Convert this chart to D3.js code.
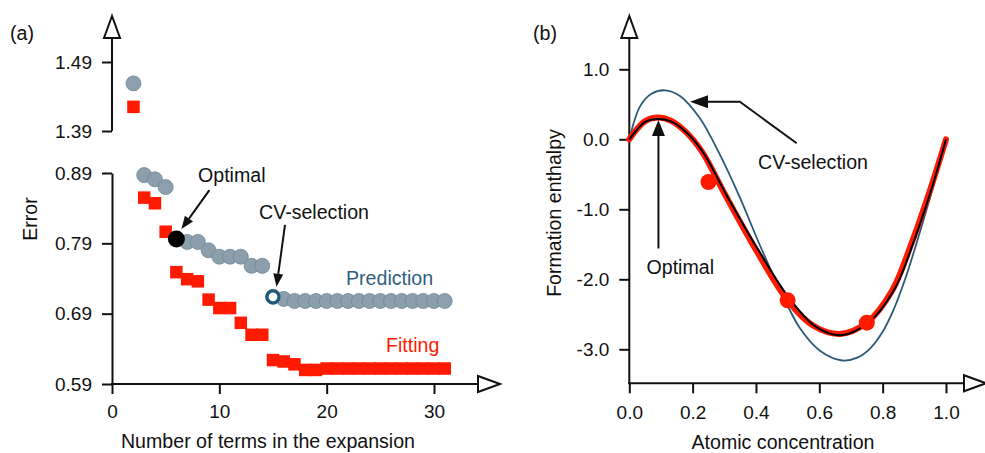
<!DOCTYPE html>
<html>
<head>
<meta charset="utf-8">
<script src="https://cdn.jsdelivr.net/npm/d3@7"></script>
<style>
body { margin: 0; background: #fff; }
text { font-family: "Liberation Sans", Arial, Helvetica, sans-serif; font-size: 19.6px; fill: #111; }
.axis text { font-size: 19px; }
.axis line, .axis path { stroke: #111; stroke-width: 2; }
</style>
</head>
<body>
<div id="box-div"></div>
<script>
// ---- panel (a) data: error vs number of terms
const nTerms = [2, 3, 4, 5, 6, 7, 8, 9, 10, 11, 12, 13, 14, 15, 16,
    17, 18, 19, 20, 21, 22, 23, 24, 25, 26, 27, 28, 29, 30, 31];
const predError = [1.459, 0.887, 0.881, 0.870, 0.796, 0.792, 0.792, 0.780, 0.771, 0.771, 0.771, 0.758, 0.758, 0.714, 0.711,
    0.708, 0.708, 0.708, 0.708, 0.708, 0.708, 0.708, 0.708, 0.708, 0.708, 0.708, 0.708, 0.708, 0.708, 0.708];
const fitError = [1.425, 0.855, 0.847, 0.8065, 0.749, 0.739, 0.736, 0.710, 0.698, 0.698, 0.677, 0.660, 0.660, 0.624, 0.622,
    0.618, 0.610, 0.610, 0.612, 0.612, 0.612, 0.612, 0.612, 0.612, 0.612, 0.612, 0.612, 0.612, 0.612, 0.612];
const optimalPoint = [6, 0.796];
const cvPoint = [15, 0.714];
const errTicksUpper = [1.39, 1.49];
const errTicksLower = [0.59, 0.69, 0.79, 0.89];
const termTicks = [0, 10, 20, 30];

// ---- panel (b) data: formation enthalpy vs concentration
const concTrue = [0, 0.025, 0.05, 0.09, 0.13, 0.18, 0.23, 0.30, 0.40, 0.50, 0.58, 0.665, 0.75, 0.83, 0.89, 0.95, 1.0];
const enthTrue = [0, 0.15, 0.26, 0.31, 0.27, 0.10, -0.18, -0.77, -1.58, -2.30, -2.66, -2.78, -2.62, -2.16, -1.50, -0.72, 0];
const concOpt = [0, 0.025, 0.05, 0.095, 0.135, 0.185, 0.235, 0.305, 0.41, 0.51, 0.59, 0.67, 0.76, 0.84, 0.895, 0.955, 1.0];
const enthOpt = [0, 0.14, 0.25, 0.29, 0.25, 0.08, -0.20, -0.78, -1.60, -2.30, -2.68, -2.80, -2.60, -2.12, -1.50, -0.70, 0];
const concCV = [0, 0.034, 0.07, 0.113, 0.16, 0.223, 0.286, 0.349, 0.412, 0.476, 0.539, 0.602, 0.672, 0.72, 0.76, 0.80, 0.835, 0.87, 0.90, 0.935, 0.97, 1.0];
const enthCV = [0, 0.47, 0.65, 0.70, 0.62, 0.30, -0.22, -0.83, -1.51, -2.15, -2.70, -3.02, -3.16, -3.12, -2.99, -2.75, -2.43, -2.01, -1.59, -1.06, -0.51, 0];
const concDots = [0.25, 0.5, 0.75];
const enthDots = [-0.61, -2.30, -2.62];
const concTicks = [0, 0.2, 0.4, 0.6, 0.8, 1.0];
const enthTicks = [-3, -2, -1, 0, 1];

const dms = { width: 985, height: 453 };

const box = d3.select('#box-div').append('svg')
    .attr('width', dms.width)
    .attr('height', dms.height);

// open triangle at the end of an axis
function axisHead(g, tipX, tipY, dir) {
    const L = 22, W = 8;
    let pts;
    if (dir == 'up') pts = [[tipX, tipY], [tipX - W, tipY + L], [tipX + W, tipY + L]];
    else pts = [[tipX, tipY], [tipX - L, tipY - W], [tipX - L, tipY + W]];
    g.append('path')
        .attr('d', 'M' + pts.join('L') + 'Z')
        .attr('fill', '#fff')
        .attr('stroke', '#111')
        .attr('stroke-width', 2);
}

// line (or polyline) with a filled arrow head at its last point
function pointer(g, pts, len, wid, sw) {
    const n = pts.length;
    const [x1, y1] = pts[n - 2], [x2, y2] = pts[n - 1];
    const a = Math.atan2(y2 - y1, x2 - x1);
    const bx = x2 - len * Math.cos(a), by = y2 - len * Math.sin(a);
    const line = pts.slice(0, n - 1).concat([[bx, by]]);
    g.append('path')
        .attr('d', d3.line()(line))
        .attr('fill', 'none')
        .attr('stroke', '#111')
        .attr('stroke-width', sw);
    const px = -Math.sin(a) * wid / 2, py = Math.cos(a) * wid / 2;
    g.append('path')
        .attr('d', `M${x2},${y2}L${bx + px},${by + py}L${bx - px},${by - py}Z`)
        .attr('fill', '#111');
}

// ================= panel (a) =================
const pa = box.append('g').attr('id', 'panel-a');

const xA = d3.scaleLinear().domain([0, 30]).range([112, 434]);
const yLow = d3.scaleLinear().domain([0.59, 0.89]).range([384, 173]);
const yUp = d3.scaleLinear().domain([1.39, 1.49]).range([131, 62]);
const yErr = v => v > 1 ? yUp(v) : yLow(v);

pa.append('g').attr('class', 'axis')
    .attr('transform', 'translate(112,0)')
    .call(d3.axisLeft(yLow).tickValues(errTicksLower).tickSize(10).tickSizeOuter(0)
        .tickPadding(10).tickFormat(d3.format('.2f')));
const upAxis = pa.append('g').attr('class', 'axis')
    .attr('transform', 'translate(112,0)')
    .call(d3.axisLeft(yUp).tickValues(errTicksUpper).tickSize(10)
        .tickPadding(10).tickFormat(d3.format('.2f')));
upAxis.select('.domain').remove();
pa.append('line').attr('x1', 112).attr('x2', 112).attr('y1', 38).attr('y2', 131)
    .attr('stroke', '#111').attr('stroke-width', 2);
axisHead(pa, 112, 16, 'up');

const xAxisA = pa.append('g').attr('class', 'axis')
    .attr('transform', 'translate(0,384)')
    .call(d3.axisBottom(xA).tickValues(termTicks).tickSize(10).tickPadding(11));
xAxisA.select('.domain').remove();
pa.append('line').attr('x1', 111).attr('x2', 478).attr('y1', 384).attr('y2', 384)
    .attr('stroke', '#111').attr('stroke-width', 2);
axisHead(pa, 500, 384, 'right');

pa.append('text').attr('x', 10).attr('y', 40).text('(a)');
pa.append('text')
    .attr('transform', 'translate(37,219) rotate(-90)')
    .attr('text-anchor', 'middle')
    .text('Error');
pa.append('text').attr('x', 268).attr('y', 448)
    .attr('text-anchor', 'middle')
    .text('Number of terms in the expansion');

// fitting squares
const sq = 12.5;
pa.append('g').selectAll('rect')
    .data(nTerms)
    .join('rect')
    .attr('x', (d, i) => xA(d) - sq / 2)
    .attr('y', (d, i) => yErr(fitError[i]) - sq / 2)
    .attr('width', sq)
    .attr('height', sq)
    .attr('fill', '#ff1a00');

// prediction circles
pa.append('g').selectAll('circle')
    .data(nTerms)
    .join('circle')
    .attr('cx', d => xA(d))
    .attr('cy', (d, i) => yErr(predError[i]))
    .attr('r', 7.5)
    .attr('fill', '#8c9fad')
    .attr('stroke', '#6f8697')
    .attr('stroke-width', 0.8);

pa.append('circle')
    .attr('cx', xA(optimalPoint[0]))
    .attr('cy', yErr(optimalPoint[1]))
    .attr('r', 8.5)
    .attr('fill', '#000');

pa.append('circle')
    .attr('cx', xA(cvPoint[0]))
    .attr('cy', yErr(cvPoint[1]))
    .attr('r', 6)
    .attr('fill', '#fff')
    .attr('stroke', '#1f5878')
    .attr('stroke-width', 3.2);

// annotations (a)
const ox = xA(optimalPoint[0]), oy = yErr(optimalPoint[1]);
pointer(pa, [[ox + 33, oy - 49], [ox + 5, oy - 10]], 13, 10, 2);
pa.append('text').attr('x', 198).attr('y', 182).text('Optimal');

const cx = xA(cvPoint[0]), cy = yErr(cvPoint[1]);
pointer(pa, [[cx + 12, cy - 72], [cx + 3.5, cy - 10]], 13, 10, 2);
pa.append('text').attr('x', 259).attr('y', 219).text('CV-selection');

pa.append('text').attr('x', 346).attr('y', 285)
    .style('fill', '#2f5e80').text('Prediction');
pa.append('text').attr('x', 386).attr('y', 352)
    .style('fill', '#ff1a00').text('Fitting');

// ================= panel (b) =================
const pb = box.append('g').attr('id', 'panel-b');

const xB = d3.scaleLinear().domain([0, 1]).range([629.3, 946]);
const yB = d3.scaleLinear().domain([-3, 1]).range([349.3, 69.3]);

const yAxisB = pb.append('g').attr('class', 'axis')
    .attr('transform', 'translate(629.3,0)')
    .call(d3.axisLeft(yB).tickValues(enthTicks).tickSize(10)
        .tickPadding(10).tickFormat(d => d.toFixed(1)));
yAxisB.select('.domain').remove();
pb.append('line').attr('x1', 629.3).attr('x2', 629.3).attr('y1', 38).attr('y2', 384)
    .attr('stroke', '#111').attr('stroke-width', 2);
axisHead(pb, 629.3, 16, 'up');

const xAxisB = pb.append('g').attr('class', 'axis')
    .attr('transform', 'translate(0,383.3)')
    .call(d3.axisBottom(xB).tickValues(concTicks).tickSize(10).tickPadding(12)
        .tickFormat(d => d.toFixed(1)));
xAxisB.select('.domain').remove();
pb.append('line').attr('x1', 628.3).attr('x2', 964).attr('y1', 383.3).attr('y2', 383.3)
    .attr('stroke', '#111').attr('stroke-width', 2);
axisHead(pb, 986, 383.3, 'right');

pb.append('text').attr('x', 533).attr('y', 40).text('(b)');
pb.append('text')
    .attr('transform', 'translate(561,213) rotate(-90)')
    .attr('text-anchor', 'middle')
    .text('Formation enthalpy');
pb.append('text').attr('x', 783).attr('y', 449)
    .attr('text-anchor', 'middle')
    .text('Atomic concentration');

const curve = (xs, ys) => d3.line()
    .x((d, i) => xB(xs[i]))
    .y((d, i) => yB(ys[i]))
    .curve(d3.curveCatmullRom.alpha(0.5))(xs);

pb.append('path').attr('d', curve(concCV, enthCV))
    .attr('fill', 'none').attr('stroke', '#2b5a78').attr('stroke-width', 1.8);
pb.append('path').attr('d', curve(concTrue, enthTrue))
    .attr('fill', 'none').attr('stroke', '#ff1a00').attr('stroke-width', 6)
    .attr('stroke-linecap', 'round');
pb.append('path').attr('d', curve(concOpt, enthOpt))
    .attr('fill', 'none').attr('stroke', '#000').attr('stroke-width', 2);

pb.append('g').selectAll('circle')
    .data(concDots)
    .join('circle')
    .attr('cx', d => xB(d))
    .attr('cy', (d, i) => yB(enthDots[i]))
    .attr('r', 8)
    .attr('fill', '#ff1a00');

// annotations (b)
pointer(pb, [[xB(0.5286), yB(-0.057)], [xB(0.349), yB(0.537)], [xB(0.1917), yB(0.537)]], 18, 13, 2);
pb.append('text').attr('x', 758).attr('y', 168.5).text('CV-selection');

pointer(pb, [[xB(0.092), yB(-1.56)], [xB(0.092), yB(0.275)]], 16, 13, 2);
pb.append('text').attr('x', 646.5).attr('y', 274).text('Optimal');
</script>
</body>
</html>
